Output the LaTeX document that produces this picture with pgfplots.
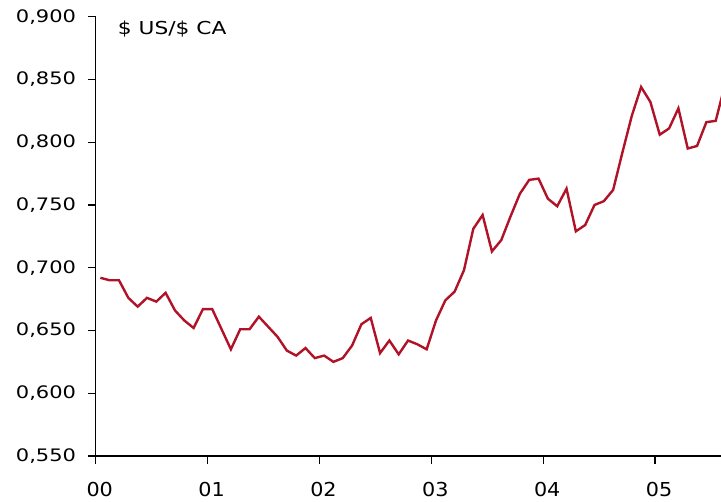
\documentclass[border=0pt]{standalone}
\usepackage{fontspec}
\setmainfont{DejaVu Sans}[FakeStretch=1.22]
\newfontfamily\xfont{DejaVu Sans}[FakeStretch=1.08]
\usepackage{pgfplots}
\pgfplotsset{compat=1.18}
\definecolor{linered}{RGB}{176,18,40}

\begin{document}
\begin{tikzpicture}
  \useasboundingbox (0,0) rectangle (360.5pt,251pt);
  \begin{axis}[
    at={(47.85pt,23pt)}, anchor=south west,
    scale only axis,
    width=312.6pt, height=219.65pt,
    xmin=0, xmax=67.06,
    ymin=0.55, ymax=0.9,
    axis lines*=left,
    axis line style={line width=0.6pt},
    tick style={line width=0.6pt, black},
    tick align=outside,
    major tick length=3.8pt,
    xtick={0,12,24,36,48,60},
    xticklabels={00,01,02,03,04,05},
    ytick={0.55,0.6,0.65,0.7,0.75,0.8,0.85,0.9},
    yticklabel style={font=\fontsize{8.6}{10}\selectfont, xshift=-2.5pt,
      /pgf/number format/.cd, fixed, fixed zerofill, precision=3, use comma},
    xticklabel style={font=\xfont\fontsize{9.6}{11}\selectfont, yshift=-6pt, xshift=2pt},
    /pgf/number format/assume math mode=true,
    scaled y ticks=false,
  ]
  % mensuel, janv. 2000 -> aout 2005
  \addplot[linered, line width=1.2pt] coordinates {
    (0.5,0.692) (1.5,0.690) (2.5,0.690) (3.5,0.676) (4.5,0.669) (5.5,0.676)
    (6.5,0.673) (7.5,0.680) (8.5,0.666) (9.5,0.658) (10.5,0.652) (11.5,0.667)
    (12.5,0.667) (13.5,0.651) (14.5,0.635) (15.5,0.651) (16.5,0.651) (17.5,0.661)
    (18.5,0.653) (19.5,0.645) (20.5,0.634) (21.5,0.630) (22.5,0.636) (23.5,0.628)
    (24.5,0.630) (25.5,0.625) (26.5,0.628) (27.5,0.638) (28.5,0.655) (29.5,0.660)
    (30.5,0.632) (31.5,0.642) (32.5,0.631) (33.5,0.642) (34.5,0.639) (35.5,0.635)
    (36.5,0.658) (37.5,0.674) (38.5,0.681) (39.5,0.698) (40.5,0.731) (41.5,0.742)
    (42.5,0.713) (43.5,0.722) (44.5,0.741) (45.5,0.759) (46.5,0.770) (47.5,0.771)
    (48.5,0.755) (49.5,0.749) (50.5,0.763) (51.5,0.729) (52.5,0.734) (53.5,0.750)
    (54.5,0.753) (55.5,0.762) (56.5,0.792) (57.5,0.821) (58.5,0.844) (59.5,0.832)
    (60.5,0.806) (61.5,0.811) (62.5,0.827) (63.5,0.795) (64.5,0.797) (65.5,0.816)
    (66.5,0.817) (67.5,0.846)
  };
  \node[anchor=west, inner sep=0pt, font=\fontsize{8.9}{10}\selectfont]
    at (axis description cs:0.035,0.972) {\$ US/\$ CA};
  \end{axis}
\end{tikzpicture}
\end{document}
